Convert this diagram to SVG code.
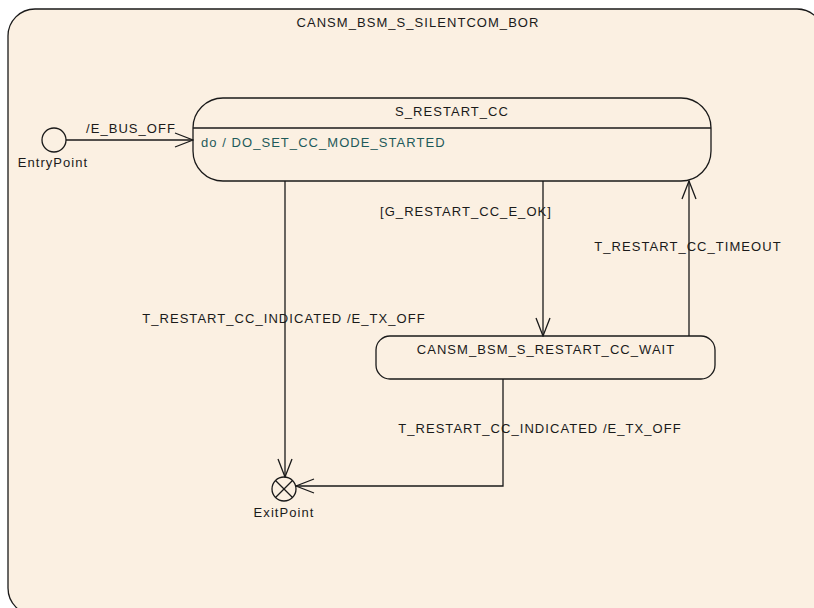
<svg xmlns="http://www.w3.org/2000/svg" width="814" height="608" viewBox="0 0 814 608">
<defs>
<style>
.t{font-family:"Liberation Sans",Arial,sans-serif;font-size:13px;letter-spacing:1.05px;fill:#1a1a1a}
.c{text-anchor:middle}
.st{fill:#fbf0e2;stroke:#1a1a1a;stroke-width:1.3}
.ln{fill:none;stroke:#1a1a1a;stroke-width:1.3}
.do{fill:#1e5a5a}
</style>
<marker id="ah" viewBox="0 0 20 16" refX="19" refY="8" markerWidth="20" markerHeight="16" markerUnits="userSpaceOnUse" orient="auto">
<path d="M1,1 L19,8 L1,15" fill="none" stroke="#1a1a1a" stroke-width="1.3"/>
</marker>
</defs>
<rect width="814" height="608" fill="#ffffff"/>
<g id="frame">
<rect class="st" x="8" y="9" width="816" height="606" rx="27"/>
<text class="t c" x="418" y="27">CANSM_BSM_S_SILENTCOM_BOR</text>
</g>
<g id="entry">
<circle class="ln" cx="54" cy="140" r="12"/>
<text class="t c" x="53" y="167">EntryPoint</text>
</g>
<g id="s_restart_cc">
<rect class="st" x="193" y="98" width="518" height="83" rx="30"/>
<line class="ln" x1="193" y1="128" x2="711" y2="128"/>
<text class="t c" x="452" y="116">S_RESTART_CC</text>
<text class="t do" x="201" y="147">do / DO_SET_CC_MODE_STARTED</text>
</g>
<g id="wait">
<rect class="st" x="376" y="336" width="339" height="43" rx="14"/>
<text class="t c" x="546" y="354">CANSM_BSM_S_RESTART_CC_WAIT</text>
</g>
<g id="exit">
<circle class="ln" cx="284" cy="489" r="12"/>
<line class="ln" x1="275.5" y1="480.5" x2="292.5" y2="497.5"/>
<line class="ln" x1="292.5" y1="480.5" x2="275.5" y2="497.5"/>
<text class="t c" x="284" y="517">ExitPoint</text>
</g>
<g id="connectors">
<line class="ln" x1="66" y1="140" x2="193" y2="140" marker-end="url(#ah)"/>
<text class="t c" x="131" y="133">/E_BUS_OFF</text>
<line class="ln" x1="285" y1="181" x2="285" y2="477" marker-end="url(#ah)"/>
<text class="t c" x="284" y="323">T_RESTART_CC_INDICATED /E_TX_OFF</text>
<line class="ln" x1="543" y1="181" x2="543" y2="336" marker-end="url(#ah)"/>
<text class="t c" x="466" y="216">[G_RESTART_CC_E_OK]</text>
<line class="ln" x1="689" y1="336" x2="689" y2="181" marker-end="url(#ah)"/>
<text class="t c" x="688" y="251">T_RESTART_CC_TIMEOUT</text>
<polyline class="ln" points="503,379 503,486 296,486" marker-end="url(#ah)"/>
<text class="t c" x="540" y="433">T_RESTART_CC_INDICATED /E_TX_OFF</text>
</g>
</svg>
